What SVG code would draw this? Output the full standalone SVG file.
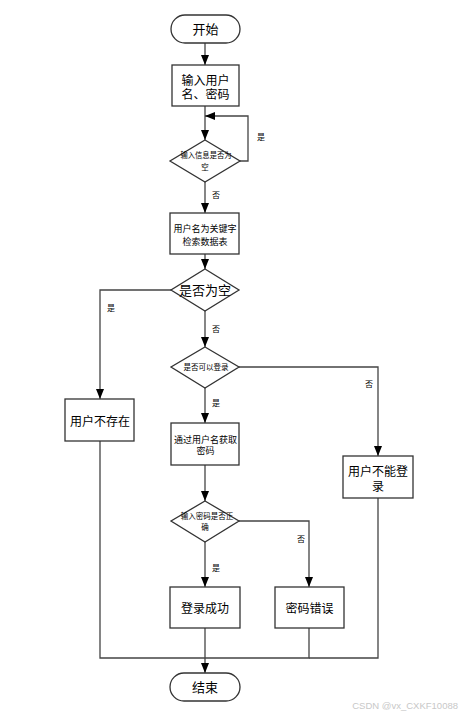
<svg xmlns="http://www.w3.org/2000/svg" width="461" height="717" viewBox="0 0 461 717">
<style>
.n{fill:#fff;stroke:#333;stroke-width:1.3}
.t{font-family:"Liberation Sans","Noto Sans CJK SC",sans-serif;fill:#000;text-anchor:middle}
.c{fill:none;stroke:#444;stroke-width:1.3}
.l{font-family:"Liberation Sans","Noto Sans CJK SC",sans-serif;font-size:8px;fill:#000;text-anchor:middle}
</style>
<defs>
<marker id="a" markerUnits="userSpaceOnUse" markerWidth="10" markerHeight="10" viewBox="0 0 10 10" refX="10" refY="5" orient="auto">
<path d="M0,1 L10,5 L0,9 Z" fill="#000"/>
</marker>
</defs>
<rect width="461" height="717" fill="#fff"/>
<g id="connectors">
<path class="c" d="M205,43 V65" marker-end="url(#a)"/>
<path class="c" d="M205,106 V140" marker-end="url(#a)"/>
<path class="c" d="M240,161 H248 V116 H205" marker-end="url(#a)"/>
<path class="c" d="M205,182 V213" marker-end="url(#a)"/>
<path class="c" d="M205,254 V269" marker-end="url(#a)"/>
<path class="c" d="M171,290 H100 V399" marker-end="url(#a)"/>
<path class="c" d="M205,311 V347" marker-end="url(#a)"/>
<path class="c" d="M239,367 H378 V456" marker-end="url(#a)"/>
<path class="c" d="M205,388 V423" marker-end="url(#a)"/>
<path class="c" d="M205,465 V501" marker-end="url(#a)"/>
<path class="c" d="M239,521 H309 V587" marker-end="url(#a)"/>
<path class="c" d="M205,542 V587" marker-end="url(#a)"/>
<path class="c" d="M205,628 V673" marker-end="url(#a)"/>
<path class="c" d="M309,628 V658 H205"/>
<path class="c" d="M100,441 V658 H205"/>
<path class="c" d="M378,498 V658 H309"/>
<text class="l" x="261" y="140">是</text>
<text class="l" x="216" y="198">否</text>
<text class="l" x="111" y="311">是</text>
<text class="l" x="216" y="332">否</text>
<text class="l" x="369" y="387">否</text>
<text class="l" x="216" y="406">是</text>
<text class="l" x="301" y="542">否</text>
<text class="l" x="216" y="571">是</text>
</g>
<g id="start">
<rect class="n" x="171" y="15" width="69" height="28" rx="14"/>
<text class="t" x="205.5" y="34" font-size="13">开始</text>
</g>
<g id="input">
<rect class="n" x="172" y="65" width="67" height="41"/>
<text class="t" x="205.5" y="84.5" font-size="12">输入用户</text>
<text class="t" x="205.5" y="98.5" font-size="12">名、密码</text>
</g>
<g id="checkEmpty">
<polygon class="n" points="205,140 240,161 205,182 170,161"/>
<text class="t" x="206" y="158" font-size="7.5" textLength="51" lengthAdjust="spacingAndGlyphs">输入信息是否为</text>
<text class="t" x="205" y="170" font-size="7.5">空</text>
</g>
<g id="query">
<rect class="n" x="170" y="213" width="69" height="41"/>
<text class="t" x="205" y="231.5" font-size="9">用户名为关键字</text>
<text class="t" x="205" y="244.5" font-size="9">检索数据表</text>
</g>
<g id="isNull">
<polygon class="n" points="205,269 239,290 205,311 171,290"/>
<text class="t" x="205" y="295" font-size="13">是否为空</text>
</g>
<g id="canLogin">
<polygon class="n" points="205,347 239,367 205,388 171,367"/>
<text class="t" x="206" y="370" font-size="7.5">是否可以登录</text>
</g>
<g id="noUser">
<rect class="n" x="65" y="399" width="69" height="42"/>
<text class="t" x="100" y="425.5" font-size="12">用户不存在</text>
</g>
<g id="getPwd">
<rect class="n" x="171" y="423" width="68" height="42"/>
<text class="t" x="205.5" y="442.5" font-size="9">通过用户名获取</text>
<text class="t" x="205.5" y="453.5" font-size="9">密码</text>
</g>
<g id="cannotLogin">
<rect class="n" x="343" y="456" width="70" height="42"/>
<text class="t" x="378" y="475.5" font-size="12">用户不能登</text>
<text class="t" x="378" y="490.5" font-size="12">录</text>
</g>
<g id="checkPwd">
<polygon class="n" points="205,501 239,521 205,542 171,521"/>
<text class="t" x="207" y="519" font-size="7.5">输入密码是否正</text>
<text class="t" x="205" y="530" font-size="7.5">确</text>
</g>
<g id="success">
<rect class="n" x="170" y="587" width="70" height="41"/>
<text class="t" x="205" y="612.5" font-size="12">登录成功</text>
</g>
<g id="pwdError">
<rect class="n" x="275" y="587" width="69" height="41"/>
<text class="t" x="309.5" y="612.5" font-size="12">密码错误</text>
</g>
<g id="end">
<rect class="n" x="170" y="673" width="70" height="28" rx="14"/>
<text class="t" x="205" y="691.5" font-size="13">结束</text>
</g>
<text x="458" y="709" font-family="'Liberation Sans',sans-serif" font-size="9.5" fill="#c8c8c8" text-anchor="end">CSDN @vx_CXKF10088</text>
</svg>
